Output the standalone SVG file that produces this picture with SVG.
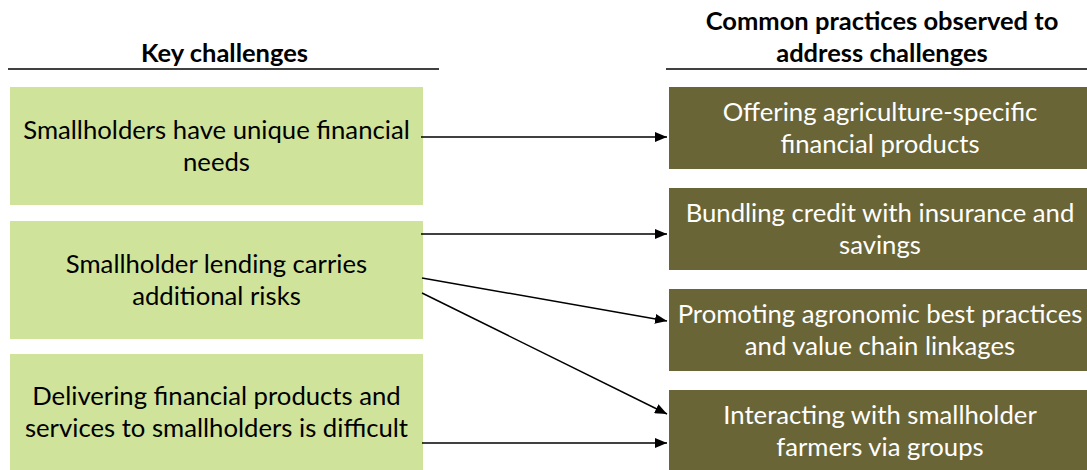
<svg xmlns="http://www.w3.org/2000/svg" width="1087" height="470" viewBox="0 0 1087 470">
<defs>
<style>
.hdr{font-family:Lato,"Liberation Sans",sans-serif;font-size:25.5px;font-weight:bold;fill:#000;text-anchor:middle}
.lt{font-family:Lato,"Liberation Sans",sans-serif;font-size:25.7px;fill:#000;text-anchor:middle}
.rt{font-family:Lato,"Liberation Sans",sans-serif;font-size:25.7px;fill:#fff;text-anchor:middle}
.lbox{fill:#cfe39a}
.rbox{fill:#6a6536}
.rule{stroke:#000;stroke-width:1.5}
.conn{stroke:#000;stroke-width:1.5;fill:none;marker-end:url(#ah)}
</style>
<marker id="ah" markerWidth="12" markerHeight="10" refX="12" refY="5" orient="auto" markerUnits="userSpaceOnUse">
<path d="M0,0 L12,5 L0,10 Z" fill="#000"/>
</marker>
</defs>
<rect width="1087" height="470" fill="#fff"/>
<g id="header-left">
<text class="hdr" x="224.5" y="62">Key challenges</text>
<line class="rule" x1="8" y1="69" x2="439" y2="69"/>
</g>
<g id="header-right">
<text class="hdr" x="882" y="30">Common practices observed to</text>
<text class="hdr" x="882" y="62">address challenges</text>
<line class="rule" x1="666" y1="69" x2="1087" y2="69"/>
</g>
<g id="challenge-1">
<rect class="lbox" x="10" y="87" width="413" height="118"/>
<text class="lt" x="216.5" y="139">Smallholders have unique financial</text>
<text class="lt" x="216.5" y="171">needs</text>
</g>
<g id="challenge-2">
<rect class="lbox" x="10" y="221" width="413" height="118"/>
<text class="lt" x="216.5" y="273">Smallholder lending carries</text>
<text class="lt" x="216.5" y="305">additional risks</text>
</g>
<g id="challenge-3">
<rect class="lbox" x="10" y="354" width="413" height="118"/>
<text class="lt" x="216.5" y="405">Delivering financial products and</text>
<text class="lt" x="216.5" y="437">services to smallholders is difficult</text>
</g>
<g id="practice-1">
<rect class="rbox" x="669" y="87" width="422" height="82"/>
<text class="rt" x="880" y="121">Offering agriculture-specific</text>
<text class="rt" x="880" y="153">financial products</text>
</g>
<g id="practice-2">
<rect class="rbox" x="669" y="188" width="422" height="82"/>
<text class="rt" x="880" y="222">Bundling credit with insurance and</text>
<text class="rt" x="880" y="254">savings</text>
</g>
<g id="practice-3">
<rect class="rbox" x="669" y="289" width="422" height="82"/>
<text class="rt" x="880" y="323">Promoting agronomic best practices</text>
<text class="rt" x="880" y="355">and value chain linkages</text>
</g>
<g id="practice-4">
<rect class="rbox" x="669" y="390" width="422" height="82"/>
<text class="rt" x="880" y="424">Interacting with smallholder</text>
<text class="rt" x="880" y="456">farmers via groups</text>
</g>
<g id="connectors">
<line class="conn" x1="421" y1="137" x2="667" y2="137"/>
<line class="conn" x1="421" y1="234" x2="667" y2="234"/>
<line class="conn" x1="422" y1="278" x2="667" y2="321"/>
<line class="conn" x1="422" y1="293" x2="667" y2="414"/>
<line class="conn" x1="422" y1="443" x2="667" y2="443"/>
</g>
</svg>
